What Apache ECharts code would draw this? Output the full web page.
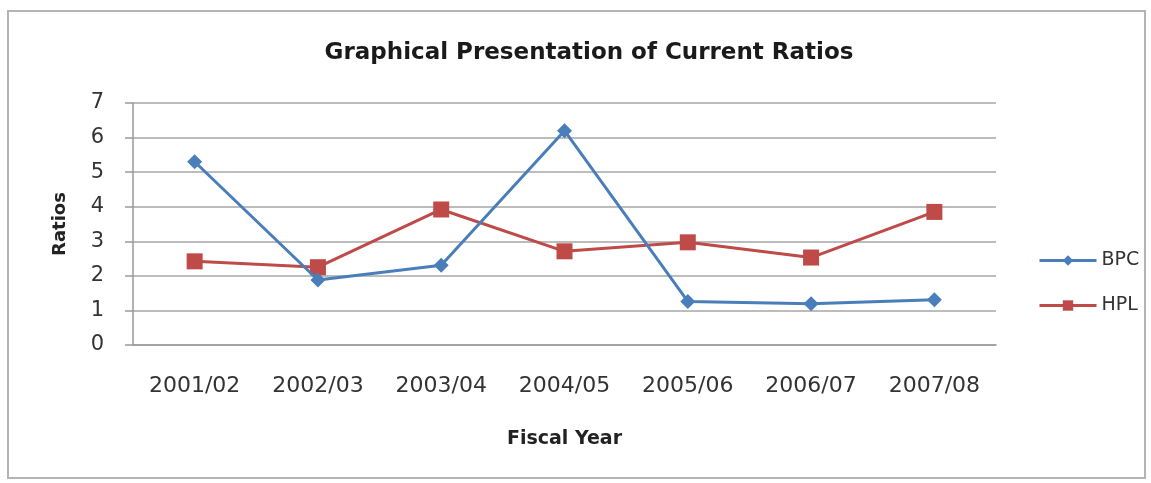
<!DOCTYPE html>
<html>
<head>
<meta charset="utf-8">
<script src="https://cdn.jsdelivr.net/npm/echarts@6/dist/echarts.min.js"></script>
<style>
  html, body { margin: 0; padding: 0; background: #fff; }
  #chart { width: 1151px; height: 483px; }
</style>
</head>
<body>
<div id="chart"></div>
<script>
// Fiscal years on the category axis
const years = ['2001/02', '2002/03', '2003/04', '2004/05', '2005/06', '2006/07', '2007/08'];
// Current ratios per company
const bpc = [5.3, 1.88, 2.31, 6.2, 1.26, 1.19, 1.31];
const hpl = [2.42, 2.25, 3.92, 2.71, 2.97, 2.53, 3.85];
// Value axis ticks
const yTicks = [0, 1, 2, 3, 4, 5, 6, 7];

const font = '"DejaVu Sans", sans-serif';

const chart = echarts.init(document.getElementById('chart'), null, { renderer: 'canvas' });

chart.setOption({
  backgroundColor: '#ffffff',
  animation: false,
  title: {
    text: 'Graphical Presentation of Current Ratios',
    left: 584,
    textAlign: 'center',
    top: 37,
    textStyle: { fontFamily: font, fontSize: 23, fontWeight: 'bold', color: '#1a1a1a' }
  },
  graphic: [
    {
      type: 'rect',
      shape: { x: 8, y: 11, width: 1137, height: 467 },
      style: { fill: 'none', stroke: '#b4b4b4', lineWidth: 2 },
      silent: true
    }
  ],
  legend: {
    orient: 'vertical',
    left: 1033,
    top: 246,
    itemGap: 26,
    itemWidth: 57,
    itemHeight: 13,
    lineStyle: { width: 3 },
    textStyle: { fontFamily: font, fontSize: 19, color: '#333' },
    data: ['BPC', 'HPL']
  },
  grid: { left: 133, right: 155, top: 103, bottom: 138, containLabel: false },
  xAxis: {
    type: 'category',
    data: years,
    boundaryGap: true,
    name: 'Fiscal Year',
    nameLocation: 'middle',
    nameGap: 85,
    nameTextStyle: { fontFamily: font, fontSize: 19, fontWeight: 'bold', color: '#222' },
    axisLine: { lineStyle: { color: '#9a9a9a', width: 1.5 } },
    axisTick: { show: false },
    axisLabel: { fontFamily: font, fontSize: 22, color: '#333', margin: 30 }
  },
  yAxis: {
    type: 'value',
    min: yTicks[0],
    max: yTicks[yTicks.length - 1],
    interval: 1,
    name: 'Ratios',
    nameLocation: 'middle',
    nameGap: 64,
    nameTextStyle: { fontFamily: font, fontSize: 18, fontWeight: 'bold', color: '#222' },
    axisLine: { show: true, lineStyle: { color: '#9a9a9a', width: 1.5 } },
    axisTick: { show: true, length: 8, lineStyle: { color: '#9a9a9a', width: 1.5 } },
    axisLabel: { fontFamily: font, fontSize: 21, color: '#333', margin: 29 },
    splitLine: { lineStyle: { color: '#a6a6a6', width: 1.5 } }
  },
  series: [
    {
      name: 'BPC',
      type: 'line',
      data: bpc,
      symbol: 'diamond',
      symbolSize: 15,
      color: '#4a7ebb',
      lineStyle: { width: 3, color: '#4a7ebb' },
      itemStyle: { color: '#4a7ebb' },
      z: 3
    },
    {
      name: 'HPL',
      type: 'line',
      data: hpl,
      symbol: 'rect',
      symbolSize: 16,
      color: '#be4b48',
      lineStyle: { width: 3, color: '#be4b48' },
      itemStyle: { color: '#be4b48' },
      z: 2
    }
  ]
});
</script>
</body>
</html>
